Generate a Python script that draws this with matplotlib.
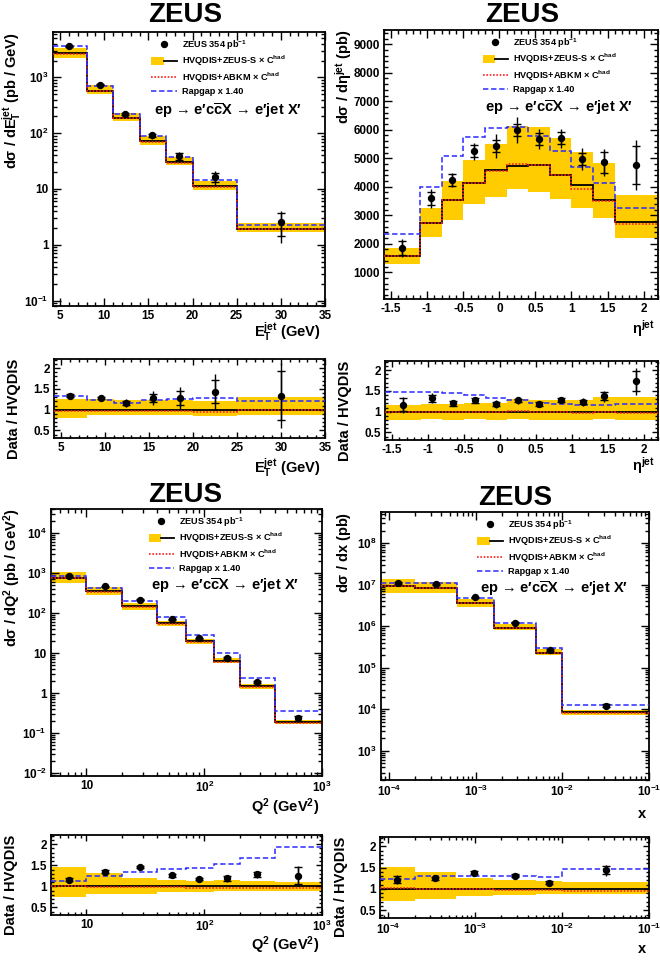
import numpy as np
import matplotlib
matplotlib.use("Agg")
import matplotlib.pyplot as plt
from matplotlib.lines import Line2D
from matplotlib.patches import Patch
from matplotlib.legend_handler import HandlerTuple
from matplotlib.ticker import LogLocator, NullFormatter, FuncFormatter, MultipleLocator

plt.rcParams["font.family"] = ["Liberation Sans", "DejaVu Sans"]
plt.rcParams["font.weight"] = "bold"
plt.rcParams["axes.labelweight"] = "bold"
plt.rcParams["axes.unicode_minus"] = False
plt.rcParams["mathtext.fontset"] = "custom"
plt.rcParams["mathtext.rm"] = "Liberation Sans:bold"
plt.rcParams["mathtext.bf"] = "Liberation Sans:bold"
plt.rcParams["mathtext.it"] = "Liberation Sans:bold"
plt.rcParams["mathtext.default"] = "bf"

GOLD = "#ffcc00"
RED = "#ff2020"
BLUE = "#2a2aff"

# ---- E_T^jet ----
ET_EDGES = [4.2, 8, 11, 14, 17, 20, 25, 35]
ET_X = [6.0, 9.5, 12.4, 15.4, 18.5, 22.5, 30.0]
ET_HVQ = [2700, 580, 190, 71, 30.2, 11.4, 1.9]
ET_DATA_R = [1.34, 1.28, 1.16, 1.28, 1.28, 1.43, 1.34]
ET_STAT = [0.03, 0.03, 0.05, 0.10, 0.17, 0.28, 0.59]
ET_TOT = [0.05, 0.05, 0.10, 0.16, 0.26, 0.43, 0.78]
ET_BAND_HI = [1.26, 1.25, 1.23, 1.23, 1.23, 1.22, 1.30]
ET_BAND_LO = [0.81, 0.87, 0.88, 0.88, 0.88, 0.84, 0.88]
ET_ABKM = [0.98, 0.98, 0.97, 0.97, 0.97, 0.94, 1.00]
ET_RAPGAP = [1.33, 1.23, 1.17, 1.23, 1.25, 1.29, 1.21]

# ---- eta^jet ----
ETA_EDGES = [-1.6, -1.1, -0.8, -0.5, -0.2, 0.1, 0.4, 0.7, 1.0, 1.3, 1.6, 2.2]
ETA_X = [-1.35, -0.95, -0.65, -0.35, -0.05, 0.25, 0.55, 0.85, 1.15, 1.45, 1.9]
ETA_HVQ = [1584, 2721, 3519, 4129, 4598, 4715, 4774, 4422, 4047, 3542, 2757]
ETA_DATA_R = [1.17, 1.32, 1.20, 1.27, 1.18, 1.27, 1.19, 1.29, 1.23, 1.37, 1.73]
ETA_STAT = [0.15, 0.08, 0.06, 0.05, 0.047, 0.045, 0.045, 0.047, 0.054, 0.10, 0.24]
ETA_TOT = [0.19, 0.12, 0.07, 0.07, 0.09, 0.095, 0.075, 0.075, 0.094, 0.13, 0.32]
ETA_BAND_HI = [1.17, 1.19, 1.19, 1.20, 1.20, 1.30, 1.28, 1.29, 1.29, 1.36, 1.35]
ETA_BAND_LO = [0.81, 0.82, 0.81, 0.82, 0.79, 0.83, 0.80, 0.81, 0.80, 0.82, 0.80]
ETA_ABKM = [0.99, 1.0, 1.0, 1.0, 0.99, 1.015, 1.0, 1.0, 0.97, 0.985, 0.98]
ETA_RAPGAP = [1.47, 1.47, 1.44, 1.39, 1.32, 1.29, 1.21, 1.19, 1.16, 1.17, 1.18]

# ---- Q^2 ----
Q2_EDGES = [5, 10, 20, 40, 70, 120, 200, 400, 1000]
Q2_X = [7.1, 14.3, 28.7, 53, 91, 156, 280, 630]
Q2_HVQ = [750, 348, 147, 56, 20, 6.4, 1.47, 0.188]
Q2_DATA_R = [1.16, 1.35, 1.46, 1.26, 1.18, 1.19, 1.29, 1.25]
Q2_STAT = [0.03, 0.03, 0.03, 0.03, 0.03, 0.06, 0.06, 0.20]
Q2_TOT = [0.05, 0.05, 0.04, 0.04, 0.04, 0.08, 0.08, 0.24]
Q2_BAND_HI = [1.46, 1.31, 1.19, 1.15, 1.12, 1.15, 1.12, 1.11]
Q2_BAND_LO = [0.74, 0.82, 0.83, 0.86, 0.86, 0.88, 0.88, 0.88]
Q2_ABKM = [1.0, 0.99, 0.99, 0.98, 0.97, 0.96, 0.96, 0.95]
Q2_RAPGAP = [1.12, 1.25, 1.35, 1.41, 1.43, 1.54, 1.67, 1.94]

# ---- x ----
X_EDGES = [8e-5, 2e-4, 6e-4, 1.6e-3, 5e-3, 1e-2, 1e-1]
X_X = [1.25e-4, 3.44e-4, 9.7e-4, 2.84e-3, 7.1e-3, 3.16e-2]
X_HVQ = [9.05e6, 8.26e6, 3.59e6, 9.3e5, 2.33e5, 8.53e3]
X_DATA_R = [1.22, 1.25, 1.38, 1.31, 1.15, 1.44]
X_STAT = [0.08, 0.03, 0.03, 0.03, 0.04, 0.10]
X_TOT = [0.10, 0.05, 0.05, 0.04, 0.06, 0.13]
X_BAND_HI = [1.52, 1.39, 1.26, 1.22, 1.19, 1.16]
X_BAND_LO = [0.71, 0.76, 0.83, 0.86, 0.87, 0.87]
X_ABKM = [1.03, 1.0, 0.99, 0.98, 0.98, 0.96]
X_RAPGAP = [1.23, 1.30, 1.31, 1.30, 1.28, 1.47]

LEG_LABELS = ["ZEUS 354 pb$^{-1}$",
              r"HVQDIS+ZEUS-S $\times$ C$^{had}$",
              r"HVQDIS+ABKM $\times$ C$^{had}$",
              "Rapgap x 1.40"]
PROCESS = "ep \u2192 e\u2032c$\\overline{c}$X \u2192 e\u2032jet X\u2032"

DOT = (0, (1, 1))
DASH = (0, (3.5, 1.8))


def log_fmt(v, pos):
    e = int(round(np.log10(v)))
    if e == 0:
        return "1"
    if e == 1:
        return "10"
    return r"$10^{%d}$" % e


def style(ax, ratio=False):
    for s in ax.spines.values():
        s.set_linewidth(1.3)
    L = 4.5 if ratio else 5.5
    ax.tick_params(which="both", direction="in", top=True, right=True,
                   labelsize=8.5, width=1.0, pad=3)
    ax.tick_params(which="major", length=L)
    ax.tick_params(which="minor", length=L / 2)


def set_log(axis):
    axis.set_major_locator(LogLocator(base=10, numticks=20))
    axis.set_minor_locator(LogLocator(base=10, subs=np.arange(2, 10), numticks=20))
    axis.set_major_formatter(FuncFormatter(log_fmt))
    axis.set_minor_formatter(NullFormatter())


def draw_main(ax, edges, xc, hvq, dr, stat, tot, bhi, blo, abkm, rap):
    hvq = np.asarray(hvq, float)
    dr = np.asarray(dr)
    ax.stairs(hvq * np.asarray(bhi), edges, baseline=hvq * np.asarray(blo),
              fill=True, color=GOLD, lw=0, zorder=1)
    ax.stairs(hvq, edges, baseline=None, color="k", lw=1.3, zorder=3)
    ax.stairs(hvq * np.asarray(abkm), edges, baseline=None, color=RED, ls=DOT,
              lw=1.2, zorder=4)
    ax.stairs(hvq * np.asarray(rap), edges, baseline=None, color=BLUE, ls=DASH,
              lw=1.1, zorder=4)
    y = hvq * dr
    ax.errorbar(xc, y, yerr=hvq * np.asarray(tot), fmt="none", ecolor="k",
                elinewidth=1.0, zorder=5)
    ax.errorbar(xc, y, yerr=hvq * np.asarray(stat), fmt="o", color="k", ms=4.3,
                elinewidth=1.0, capsize=3.2, capthick=1.0, zorder=6)
    handles = [Line2D([], [], ls="none", marker="o", color="k", ms=4.3),
               (Patch(facecolor=GOLD, edgecolor="none"),
                Line2D([], [], color="k", lw=1.3)),
               Line2D([], [], color=RED, ls=DOT, lw=1.2),
               Line2D([], [], color=BLUE, ls=DASH, lw=1.1)]
    ax.legend(handles, LEG_LABELS, handler_map={tuple: HandlerTuple(ndivide=None)},
              loc="upper left", bbox_to_anchor=(0.36, 0.978), frameon=False,
              prop={"size": 6.6, "weight": "bold"}, handlelength=2.8,
              handleheight=1.0, handletextpad=0.55, labelspacing=0.24,
              borderpad=0, borderaxespad=0)
    ax.text(0.37, 0.712, PROCESS, transform=ax.transAxes, fontsize=10.5,
            fontweight="bold", ha="left", va="center")
    ax.set_xlim(edges[0], edges[-1])


def draw_ratio(ax, edges, xc, dr, stat, tot, bhi, blo, abkm, rap):
    ones = np.ones(len(xc))
    ax.stairs(bhi, edges, baseline=blo, fill=True, color=GOLD, lw=0, zorder=1)
    ax.stairs(ones, edges, baseline=None, color="k", lw=1.3, zorder=3)
    ax.stairs(abkm, edges, baseline=None, color=RED, ls=DOT, lw=1.2, zorder=4)
    ax.stairs(rap, edges, baseline=None, color=BLUE, ls=DASH, lw=1.1, zorder=4)
    ax.errorbar(xc, dr, yerr=tot, fmt="none", ecolor="k", elinewidth=1.0, zorder=5)
    ax.errorbar(xc, dr, yerr=stat, fmt="o", color="k", ms=4.3, elinewidth=1.0,
                capsize=3.2, capthick=1.0, zorder=6)
    ax.set_xlim(edges[0], edges[-1])
    ax.set_ylim(0.32, 2.22)
    ax.yaxis.set_major_locator(MultipleLocator(0.5))
    ax.yaxis.set_minor_locator(MultipleLocator(0.1))
    ax.yaxis.set_major_formatter(FuncFormatter(lambda v, p: "%g" % v))
    ax.set_ylabel("Data / HVQDIS", fontsize=10.5, loc="top")
    ax.yaxis.set_label_coords(-0.12, 1.0)


fig = plt.figure(figsize=(6.6, 9.6), dpi=100)

# E_T panel
ax1 = fig.add_axes([0.0803, 0.6813, 0.4121, 0.2854])
draw_main(ax1, ET_EDGES, ET_X, ET_HVQ, ET_DATA_R, ET_STAT, ET_TOT,
          ET_BAND_HI, ET_BAND_LO, ET_ABKM, ET_RAPGAP)
ax1.set_yscale("log")
ax1.set_ylim(0.08, 6500)
set_log(ax1.yaxis)
ax1.xaxis.set_major_locator(MultipleLocator(5))
ax1.xaxis.set_minor_locator(MultipleLocator(1))
ax1.set_ylabel(r"d$\sigma$ / dE$_{T}^{jet}$ (pb / GeV)", fontsize=10.5, loc="top")
ax1.yaxis.set_label_coords(-0.105, 1.0)
ax1.set_xlabel(r"E$_{T}^{jet}$ (GeV)", fontsize=10.5, loc="right")
ax1.xaxis.set_label_coords(0.985, -0.055)
style(ax1)

r1 = fig.add_axes([0.0818, 0.5438, 0.4106, 0.0823])
draw_ratio(r1, ET_EDGES, ET_X, ET_DATA_R, ET_STAT, ET_TOT,
           ET_BAND_HI, ET_BAND_LO, ET_ABKM, ET_RAPGAP)
r1.xaxis.set_major_locator(MultipleLocator(5))
r1.xaxis.set_minor_locator(MultipleLocator(1))
r1.set_xlabel(r"E$_{T}^{jet}$ (GeV)", fontsize=10.5, loc="right")
r1.xaxis.set_label_coords(0.985, -0.24)
style(r1, ratio=True)

# eta panel
ax2 = fig.add_axes([0.5818, 0.6885, 0.4152, 0.2802])
draw_main(ax2, ETA_EDGES, ETA_X, ETA_HVQ, ETA_DATA_R, ETA_STAT, ETA_TOT,
          ETA_BAND_HI, ETA_BAND_LO, ETA_ABKM, ETA_RAPGAP)
ax2.set_ylim(60, 9500)
ax2.yaxis.set_major_locator(MultipleLocator(1000))
ax2.yaxis.set_minor_locator(MultipleLocator(200))
ax2.xaxis.set_major_locator(MultipleLocator(0.5))
ax2.xaxis.set_minor_locator(MultipleLocator(0.1))
ax2.xaxis.set_major_formatter(FuncFormatter(lambda v, p: "%g" % v))
ax2.set_ylabel(r"d$\sigma$ / d$\eta^{jet}$ (pb)", fontsize=10.5, loc="top")
ax2.yaxis.set_label_coords(-0.11, 1.0)
ax2.set_xlabel(r"$\eta^{jet}$", fontsize=10.5, loc="right")
ax2.xaxis.set_label_coords(0.99, -0.07)
style(ax2)

r2 = fig.add_axes([0.5833, 0.5417, 0.4136, 0.0823])
draw_ratio(r2, ETA_EDGES, ETA_X, ETA_DATA_R, ETA_STAT, ETA_TOT,
           ETA_BAND_HI, ETA_BAND_LO, ETA_ABKM, ETA_RAPGAP)
r2.xaxis.set_major_locator(MultipleLocator(0.5))
r2.xaxis.set_minor_locator(MultipleLocator(0.1))
r2.xaxis.set_major_formatter(FuncFormatter(lambda v, p: "%g" % v))
r2.set_xlabel(r"$\eta^{jet}$", fontsize=10.5, loc="right")
r2.xaxis.set_label_coords(0.99, -0.19)
style(r2, ratio=True)

# Q^2 panel
ax3 = fig.add_axes([0.0773, 0.1917, 0.4106, 0.2781])
draw_main(ax3, Q2_EDGES, Q2_X, Q2_HVQ, Q2_DATA_R, Q2_STAT, Q2_TOT,
          Q2_BAND_HI, Q2_BAND_LO, Q2_ABKM, Q2_RAPGAP)
ax3.set_xscale("log")
ax3.set_yscale("log")
ax3.set_xlim(5, 1000)
ax3.set_ylim(0.0085, 4e4)
set_log(ax3.xaxis)
set_log(ax3.yaxis)
ax3.set_ylabel(r"d$\sigma$ / dQ$^{2}$ (pb / GeV$^{2}$)", fontsize=10.5, loc="top")
ax3.yaxis.set_label_coords(-0.105, 1.0)
ax3.set_xlabel(r"Q$^{2}$ (GeV$^{2}$)", fontsize=10.5, loc="right")
ax3.xaxis.set_label_coords(0.99, -0.075)
style(ax3)

r3 = fig.add_axes([0.0773, 0.0469, 0.4106, 0.0833])
draw_ratio(r3, Q2_EDGES, Q2_X, Q2_DATA_R, Q2_STAT, Q2_TOT,
           Q2_BAND_HI, Q2_BAND_LO, Q2_ABKM, Q2_RAPGAP)
r3.set_xscale("log")
r3.set_xlim(5, 1000)
set_log(r3.xaxis)
r3.set_xlabel(r"Q$^{2}$ (GeV$^{2}$)", fontsize=10.5, loc="right")
r3.xaxis.set_label_coords(0.99, -0.24)
style(r3, ratio=True)

# x panel
ax4 = fig.add_axes([0.5773, 0.1875, 0.4060, 0.2792])
draw_main(ax4, X_EDGES, X_X, X_HVQ, X_DATA_R, X_STAT, X_TOT,
          X_BAND_HI, X_BAND_LO, X_ABKM, X_RAPGAP)
ax4.set_xscale("log")
ax4.set_yscale("log")
ax4.set_xlim(8e-5, 0.1)
ax4.set_ylim(200, 5.6e8)
set_log(ax4.xaxis)
set_log(ax4.yaxis)
ax4.set_ylabel(r"d$\sigma$ / dx (pb)", fontsize=10.5, loc="top")
ax4.yaxis.set_label_coords(-0.105, 1.0)
ax4.set_xlabel("x", fontsize=10.5, loc="right")
ax4.xaxis.set_label_coords(0.99, -0.1)
style(ax4)

r4 = fig.add_axes([0.5758, 0.0438, 0.4075, 0.0844])
draw_ratio(r4, X_EDGES, X_X, X_DATA_R, X_STAT, X_TOT,
           X_BAND_HI, X_BAND_LO, X_ABKM, X_RAPGAP)
r4.set_xscale("log")
r4.set_xlim(8e-5, 0.1)
set_log(r4.xaxis)
r4.set_xlabel("x", fontsize=10.5, loc="right")
r4.xaxis.set_label_coords(0.99, -0.3)
style(r4, ratio=True)

for (tx, ty) in [(185, 15), (522, 15), (185, 495), (515, 498)]:
    fig.text(tx / 660, 1 - ty / 960, "ZEUS", fontsize=20, fontweight="bold",
             ha="center", va="center")

fig.savefig("out.png", dpi=100)
